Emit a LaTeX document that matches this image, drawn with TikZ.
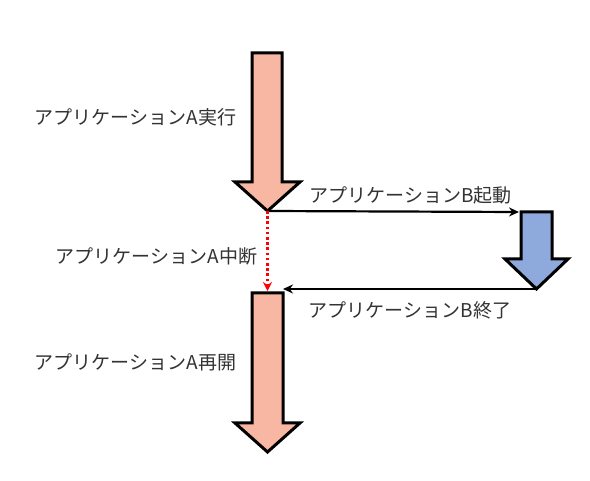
\documentclass[tikz,border=0pt]{standalone}
\usepackage{fontspec}
\newfontfamily\jpfont{Noto Sans CJK JP}
\usepackage{xcolor}
\usetikzlibrary{arrows.meta,calc,positioning}
\definecolor{appA}{HTML}{F7B7A3}
\definecolor{appB}{HTML}{8EA9DB}
\definecolor{labelgray}{HTML}{333333}

\begin{document}
\begin{tikzpicture}[x=1pt,y=-1pt,
  bigarrow/.style={draw=black,line width=3pt,line join=miter,fill=#1},
  bigarrow/.default=appA,
  lbl/.style={font=\jpfont\fontsize{19}{23}\selectfont,text=labelgray,inner sep=0pt},
  conn/.style={-{Stealth[length=10pt,width=9pt]},line width=2.2pt}]
  \path[use as bounding box,fill=white] (0,0) rectangle (590,481);
  % application A, running
  \draw[bigarrow] (252,53) -- (282,53) -- (282,182) -- (300,182) -- (267.5,211)
    -- (235,182) -- (252,182) -- cycle;
  \coordinate (runTip) at (267.5,211);
  % application B
  \draw[bigarrow=appB] (521,212) -- (552,212) -- (552,259) -- (568,259) -- (536.5,289)
    -- (505,259) -- (521,259) -- cycle;
  \coordinate (bTop) at (519,212);
  \coordinate (bTip) at (536.5,289);
  % application A, resumed
  \draw[bigarrow] (252,293) -- (283,293) -- (283,423) -- (300,423) -- (267.5,452)
    -- (235,423) -- (252,423) -- cycle;
  \coordinate (resTop) at (267.5,291);
  \coordinate (resRight) at (283,289);
  % labels
  \node[lbl] (run) at (135.5,117) {アプリケーションA実行};
  \node[lbl] (start) at (410.5,195) {アプリケーションB起動};
  \node[lbl] (pause) at (156.5,256) {アプリケーションA中断};
  \node[lbl] (stop) at (410,310) {アプリケーションB終了};
  \node[lbl] (resume) at (135.5,362) {アプリケーションA再開};
  % connectors
  \draw[conn] (runTip) -- (bTop);
  \draw[conn] (bTip) -- (resRight);
  \draw[red,line width=2.6pt,dash pattern=on 2.6pt off 2.6pt,
    -{Stealth[length=9pt,width=9pt]}] (runTip) -- (resTop);
\end{tikzpicture}
\end{document}
